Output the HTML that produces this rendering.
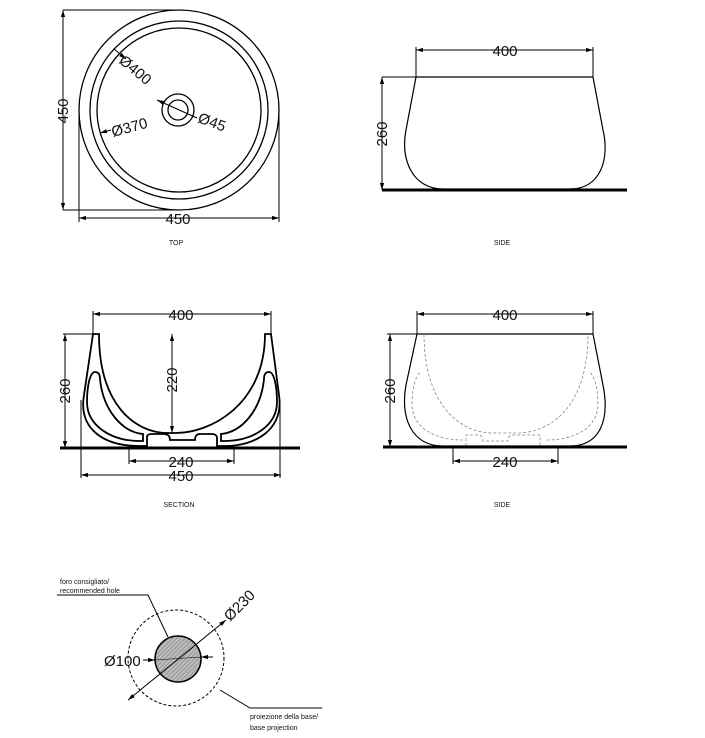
<!DOCTYPE html>
<html><head><meta charset="utf-8"><style>
html,body{margin:0;padding:0;background:#fff;width:705px;height:738px;overflow:hidden}
svg{display:block}
text{font-family:"Liberation Sans",Arial,sans-serif;fill:#111}
.d{font-size:15px}
.s{font-size:7px}
</style></head><body>
<svg width="705" height="738" viewBox="0 0 705 738" xmlns="http://www.w3.org/2000/svg">
<defs>
<marker id="a" viewBox="0 0 10 10" refX="10" refY="5" markerWidth="7" markerHeight="7" orient="auto-start-reverse" markerUnits="userSpaceOnUse"><path d="M0,2 L10,5 L0,8 Z" fill="#000"/></marker>
<pattern id="h" width="3" height="3" patternUnits="userSpaceOnUse" patternTransform="rotate(45)"><rect width="3" height="3" fill="#bbb"/><line x1="0" y1="0" x2="0" y2="3" stroke="#777" stroke-width="1"/></pattern>
</defs>
<g fill="none" stroke="#000" stroke-width="1">
<!-- TOP -->
<circle cx="179" cy="110" r="100" stroke-width="1.3"/>
<circle cx="179" cy="110" r="89" stroke-width="1.3"/>
<circle cx="179" cy="110" r="82" stroke-width="1.3"/>
<circle cx="178" cy="110" r="16" stroke-width="1.3"/>
<circle cx="178" cy="110" r="10" stroke-width="1.3"/>
<line x1="63" y1="10" x2="179" y2="10"/>
<line x1="63" y1="210" x2="179" y2="210"/>
<line x1="63" y1="10" x2="63" y2="210" marker-start="url(#a)" marker-end="url(#a)"/>
<line x1="79" y1="110" x2="79" y2="222"/>
<line x1="279" y1="110" x2="279" y2="222"/>
<line x1="79" y1="218" x2="279" y2="218" marker-start="url(#a)" marker-end="url(#a)"/>
<line x1="114" y1="49" x2="126" y2="59" marker-end="url(#a)"/>
<line x1="100" y1="133" x2="111" y2="130" marker-start="url(#a)"/>
<line x1="157" y1="100" x2="197" y2="118" marker-start="url(#a)"/>
<!-- SIDE top -->
<line x1="416" y1="47" x2="416" y2="77"/>
<line x1="593" y1="47" x2="593" y2="77"/>
<line x1="416" y1="50" x2="593" y2="50" marker-start="url(#a)" marker-end="url(#a)"/>
<line x1="382" y1="77" x2="416" y2="77"/>
<line x1="382" y1="77" x2="382" y2="190" marker-start="url(#a)" marker-end="url(#a)"/>
<path d="M416,77 L593,77 L603,130 C610,160 600,189 570,189 L443,189 C413,189 400,160 406,130 Z" stroke-width="1.2"/>
<line x1="382" y1="190" x2="627" y2="190" stroke-width="3"/>
<!-- SECTION -->
<line x1="93" y1="311" x2="93" y2="334"/>
<line x1="271" y1="311" x2="271" y2="334"/>
<line x1="93" y1="314" x2="271" y2="314" marker-start="url(#a)" marker-end="url(#a)"/>
<line x1="63" y1="334" x2="93" y2="334"/>
<line x1="65" y1="334" x2="65" y2="448" marker-start="url(#a)" marker-end="url(#a)"/>
<line x1="172" y1="334" x2="172" y2="433" marker-start="url(#a)" marker-end="url(#a)"/>
<line x1="129" y1="448" x2="129" y2="464"/>
<line x1="234" y1="448" x2="234" y2="464"/>
<line x1="129" y1="461" x2="234" y2="461" marker-start="url(#a)" marker-end="url(#a)"/>
<line x1="81" y1="400" x2="81" y2="478"/>
<line x1="280" y1="400" x2="280" y2="478"/>
<line x1="81" y1="475" x2="281" y2="475" marker-start="url(#a)" marker-end="url(#a)"/>
<g stroke-width="1.8">
<path d="M93,334 L99,334 C99,405 135,433 168,433 L176,433 C210,433 265,405 265,334 L271,334 L279,395 C284,430 255,446 225,446 L217,446 L217,437 Q216,434 212,434 L200,434 Q195,434 195,440 L170,440 Q170,434 164,434 L152,434 Q147,434 147,437 L147,446 L139,446 C105,446 78,430 84,395 Z"/>
<path d="M95,372 Q100,372 100,379 C103,410 122,432 143,434 L143,441 L140,441 C110,441 87,425 87,402 C87,386 90,372 95,372 Z"/>
<path d="M269,372 Q264,372 264,379 C261,410 242,432 221,434 L221,441 L224,441 C254,441 277,425 277,402 C277,386 274,372 269,372 Z"/>
</g>
<line x1="60" y1="448" x2="300" y2="448" stroke-width="3"/>
<!-- SIDE bottom -->
<line x1="417" y1="311" x2="417" y2="334"/>
<line x1="593" y1="311" x2="593" y2="334"/>
<line x1="417" y1="314" x2="593" y2="314" marker-start="url(#a)" marker-end="url(#a)"/>
<line x1="387" y1="334" x2="417" y2="334"/>
<line x1="390" y1="334" x2="390" y2="447" marker-start="url(#a)" marker-end="url(#a)"/>
<line x1="453" y1="447" x2="453" y2="464"/>
<line x1="558" y1="447" x2="558" y2="464"/>
<line x1="453" y1="461" x2="558" y2="461" marker-start="url(#a)" marker-end="url(#a)"/>
<path d="M417,334 L593,334 L603,385 C610,420 600,446 570,446 L443,446 C413,446 400,420 406,385 Z" stroke-width="1.2"/>
<g stroke="#888" stroke-width="0.8" stroke-dasharray="3,2">
<path d="M424,334 C424,405 460,433 493,433 L517,433 C552,433 588,405 588,334"/>
<path d="M420,373 C415,376 412,390 412,405 C413,428 435,440 463,440"/>
<path d="M590,373 C595,376 598,390 598,405 C597,428 575,440 547,440"/>
<path d="M466,446 L466,435 L478,435 Q483,435 483,441 L508,441 Q508,435 513,435 L540,435 L540,446"/>
</g>
<line x1="383" y1="447" x2="627" y2="447" stroke-width="3"/>
<!-- PLAN -->
<circle cx="176" cy="658" r="48" stroke-dasharray="3,2"/>
<circle cx="178" cy="659" r="23" fill="url(#h)" stroke-width="1.5"/>
<line x1="128" y1="700" x2="226" y2="620" marker-start="url(#a)" marker-end="url(#a)"/>
<line x1="143" y1="660" x2="155" y2="660" marker-end="url(#a)"/>
<line x1="213" y1="657" x2="201" y2="657" marker-end="url(#a)"/>
<line x1="155" y1="660" x2="201" y2="657" stroke-width="0.6"/>
<polyline points="57,595 148,595 168,637"/>
<polyline points="220,690 250,708 322,708"/>
</g>
<!-- text -->
<text class="d" x="63" y="111" text-anchor="middle" transform="rotate(-90 63 111)" dy="5">450</text>
<text class="d" x="178" y="224" text-anchor="middle">450</text>
<text class="d" transform="translate(118,62) rotate(40)">Ø400</text>
<text class="d" transform="translate(113,137) rotate(-15)">Ø370</text>
<text class="d" transform="translate(197,122) rotate(20)">Ø45</text>
<text class="s" x="176" y="245" text-anchor="middle">TOP</text>
<text class="d" x="505" y="56" text-anchor="middle">400</text>
<text class="d" x="382" y="134" text-anchor="middle" transform="rotate(-90 382 134)" dy="5">260</text>
<text class="s" x="502" y="245" text-anchor="middle">SIDE</text>
<text class="d" x="181" y="320" text-anchor="middle">400</text>
<text class="d" x="65" y="391" text-anchor="middle" transform="rotate(-90 65 391)" dy="5">260</text>
<text class="d" x="172" y="380" text-anchor="middle" transform="rotate(-90 172 380)" dy="5">220</text>
<text class="d" x="181" y="467" text-anchor="middle">240</text>
<text class="d" x="181" y="481" text-anchor="middle">450</text>
<text class="s" x="179" y="507" text-anchor="middle">SECTION</text>
<text class="d" x="505" y="320" text-anchor="middle">400</text>
<text class="d" x="390" y="391" text-anchor="middle" transform="rotate(-90 390 391)" dy="5">260</text>
<text class="d" x="505" y="467" text-anchor="middle">240</text>
<text class="s" x="502" y="507" text-anchor="middle">SIDE</text>
<text class="s" x="60" y="584">foro consigliato/</text>
<text class="s" x="60" y="593">recommended hole</text>
<text class="d" transform="translate(230,622) rotate(-45)">Ø230</text>
<text class="d" x="104" y="666">Ø100</text>
<text class="s" x="250" y="719">proiezione della base/</text>
<text class="s" x="250" y="730">base projection</text>
</svg>
</body></html>
